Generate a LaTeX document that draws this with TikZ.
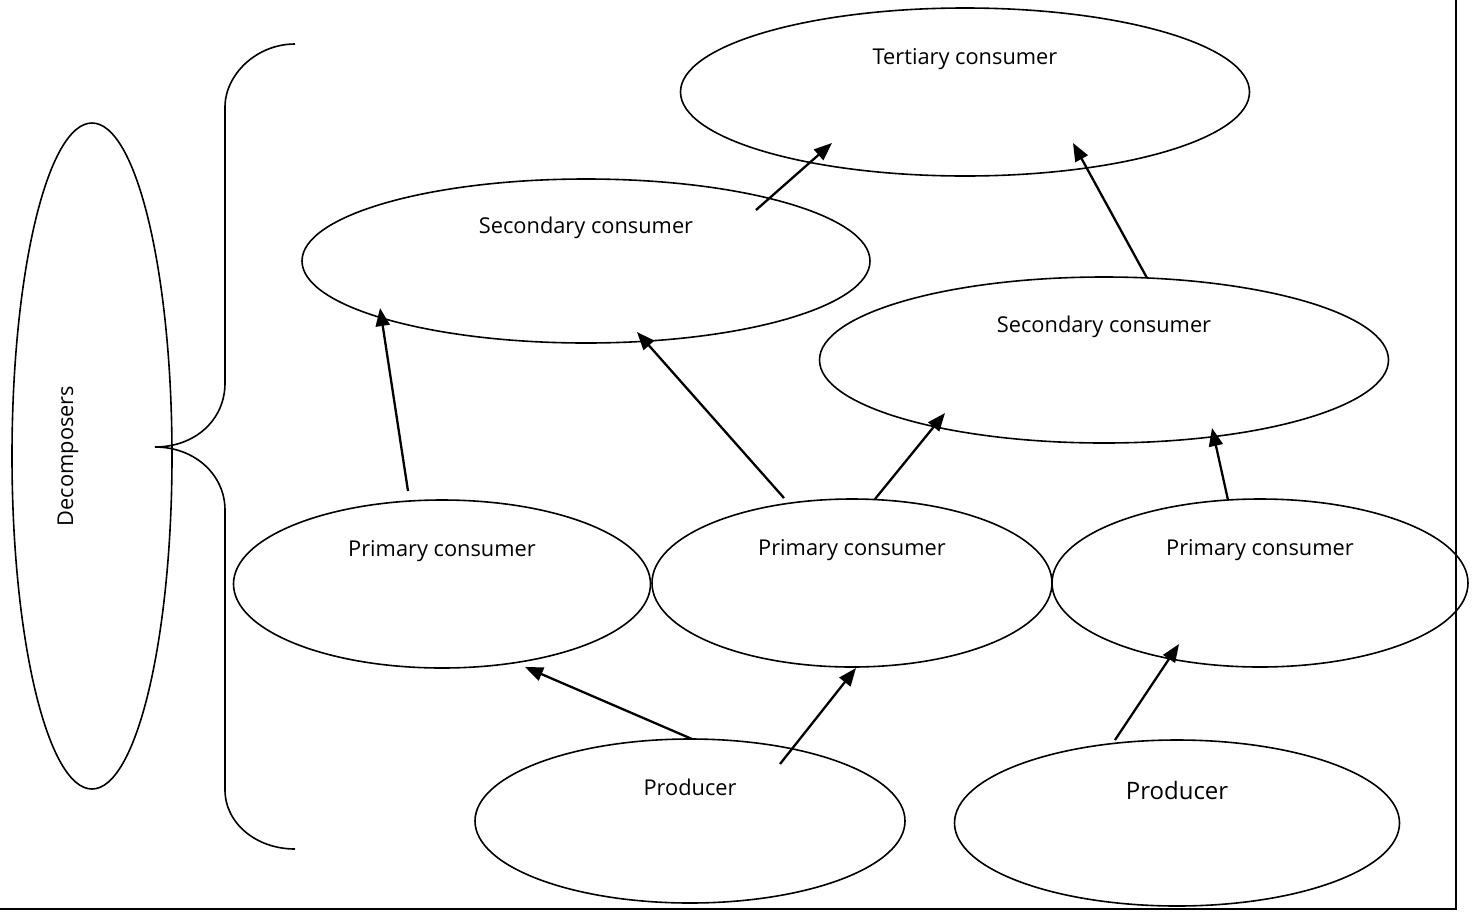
\documentclass[tikz,border=0pt]{standalone}
\usepackage{fontspec}
\setmainfont{Open Sans}
\usetikzlibrary{arrows.meta,shapes.geometric}
\begin{document}
\begin{tikzpicture}[x=1pt,y=-1pt,
  ell/.style={draw, ellipse, inner sep=0pt, outer sep=0pt, line width=1.6pt},
  lab/.style={anchor=base, font=\fontsize{21.8}{26}\selectfont, inner sep=0pt},
  biglab/.style={anchor=base, font=\fontsize{24}{28}\selectfont, inner sep=0pt},
  arr/.style={line width=2.3pt, -{Triangle[length=18pt,width=14pt]}},
  frame/.style={line width=2.6pt, line join=miter},
  bracestyle/.style={line width=1.6pt},
]
\useasboundingbox (0,0) rectangle (1480,911);

% ellipses
\node[ell, minimum width=160pt, minimum height=666pt] (dec) at (92,456) {};
\node[ell, minimum width=569pt, minimum height=168pt] (ter) at (965,92) {};
\node[ell, minimum width=568pt, minimum height=164pt] (secl) at (586,261) {};
\node[ell, minimum width=569pt, minimum height=166pt] (secr) at (1104,360) {};
\node[ell, minimum width=417pt, minimum height=168pt] (priml) at (442,584) {};
\node[ell, minimum width=400pt, minimum height=168pt] (primm) at (852,583) {};
\node[ell, minimum width=416pt, minimum height=168pt] (primr) at (1260,583) {};
\node[ell, minimum width=430pt, minimum height=164pt] (prodl) at (690,821) {};
\node[ell, minimum width=445pt, minimum height=166pt] (prodr) at (1177,823) {};

% labels
\node[lab, rotate=90] (dect) at ([shift={(-19,0)}]dec.center) {Decomposers};
\node[lab] (tert) at ([shift={(0,-28)}]ter.center) {Tertiary consumer};
\node[lab] (seclt) at ([shift={(0,-28)}]secl.center) {Secondary consumer};
\node[lab] (secrt) at ([shift={(0,-28)}]secr.center) {Secondary consumer};
\node[lab] (primlt) at ([shift={(0,-28)}]priml.center) {Primary consumer};
\node[lab] (primmt) at ([shift={(0,-28)}]primm.center) {Primary consumer};
\node[lab] (primrt) at ([shift={(0,-28)}]primr.center) {Primary consumer};
\node[lab] (prodlt) at ([shift={(0,-26)}]prodl.center) {Producer};
\node[biglab] (prodrt) at ([shift={(0,-24)}]prodr.center) {Producer};

% brace
\draw[bracestyle] (295,44) .. controls (256,44) and (225,75) .. (225,107) -- (225,383)
  .. controls (225,420) and (195,447) .. (155,447)
  .. controls (195,447) and (225,475) .. (225,510) -- (225,790)
  .. controls (225,823) and (256,849) .. (295,849);

% arrows
\draw[arr] ([shift={(2,-82)}]prodl.center) -- ([shift={(83,83)}]priml.center);
\draw[arr] ([shift={(90,-57)}]prodl.center) -- ([shift={(4,85)}]primm.center);
\draw[arr] ([shift={(-62,-83)}]prodr.center) -- ([shift={(-81,61)}]primr.center);
\draw[arr] ([shift={(-34,-93)}]priml.center) -- ([shift={(-206,47)}]secl.center);
\draw[arr] ([shift={(-68,-85)}]primm.center) -- ([shift={(51,71)}]secl.center);
\draw[arr] ([shift={(23,-84)}]primm.center) -- ([shift={(-159,53)}]secr.center);
\draw[arr] ([shift={(-32,-83)}]primr.center) -- ([shift={(108,68)}]secr.center);
\draw[arr] ([shift={(170,-51)}]secl.center) -- ([shift={(-133,51)}]ter.center);
\draw[arr] ([shift={(43,-82)}]secr.center) -- ([shift={(108,51)}]ter.center);

% frame
\draw[frame] (0,909) -- (1456,909) -- (1456,0);
\end{tikzpicture}
\end{document}
